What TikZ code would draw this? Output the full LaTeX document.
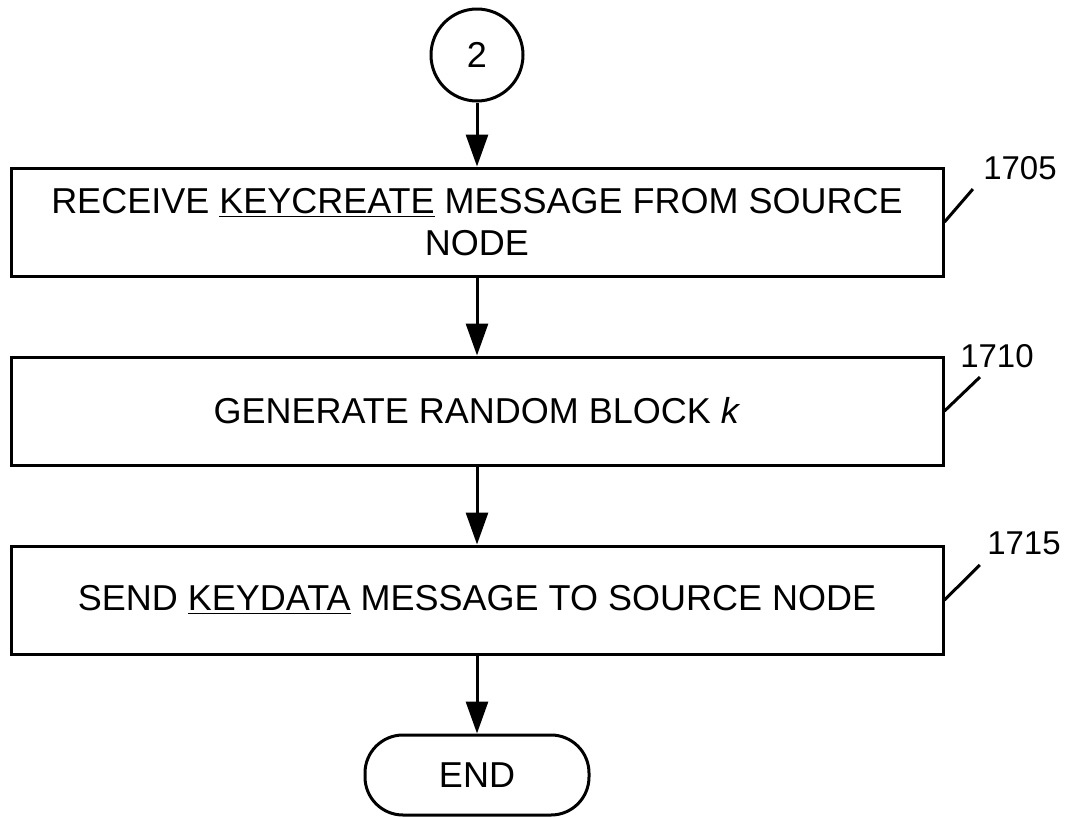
\documentclass[tikz,border=0pt]{standalone}
\usepackage{fontspec}
\setmainfont{Liberation Sans}
\usetikzlibrary{positioning,arrows.meta}
\tikzset{
    process/.style = {
        draw,
        line width=1.5pt,
        minimum width=466pt,
        minimum height=54pt,
        align=center,
        font=\fontsize{18}{21}\selectfont,
        },
    connector/.style = {
        draw,
        circle,
        line width=1.5pt,
        minimum size=46pt,
        inner sep=0pt,
        font=\fontsize{18}{21}\selectfont,
        },
    terminal/.style = {
        draw,
        rectangle,
        rounded corners=19pt,
        line width=1.5pt,
        minimum width=112pt,
        minimum height=40pt,
        font=\fontsize{18}{21}\selectfont,
        },
    flow/.style = {
        draw,
        line width=1.5pt,
        -{Triangle[length=16pt,width=11pt]},
        },
    tag/.style = {
        inner sep=0pt,
        font=\fontsize{16.5}{18}\selectfont,
        },
    leader/.style = {
        draw,
        line width=1.5pt,
        }
}

\begin{document}
\begin{tikzpicture}[x=0.5pt,y=-0.5pt]
            \useasboundingbox (0,0) rectangle (1067,816);
            \node[connector] (c2) at (477,55) {2};
            \node[process, below=32pt of c2] (p1) {RECEIVE \underline{KEYCREATE} MESSAGE FROM SOURCE\\NODE};
            \node[process, below=39pt of p1] (p2) {GENERATE RANDOM BLOCK \textit{k}};
            \node[process, below=39pt of p2] (p3) {SEND \underline{KEYDATA} MESSAGE TO SOURCE NODE};
            \node[terminal, below=39pt of p3] (end) {END};

            \path (c2) edge[flow] (p1);
            \path (p1) edge[flow] (p2);
            \path (p2) edge[flow] (p3);
            \path (p3) edge[flow] (end);

            % reference numerals
            \node[tag] (n1705) at (1020,168) {1705};
            \node[tag] (n1710) at (997,356) {1710};
            \node[tag] (n1715) at (1024,543) {1715};
            \path (p1.east) edge[leader] ([xshift=-5pt,yshift=-4.5pt]n1705.south west);
            \path (p2.east) edge[leader] ([xshift=10pt,yshift=-4.5pt]n1710.south west);
            \path (p3.east) edge[leader] ([xshift=-3.5pt,yshift=-5pt]n1715.south west);
        \end{tikzpicture}
\end{document}
